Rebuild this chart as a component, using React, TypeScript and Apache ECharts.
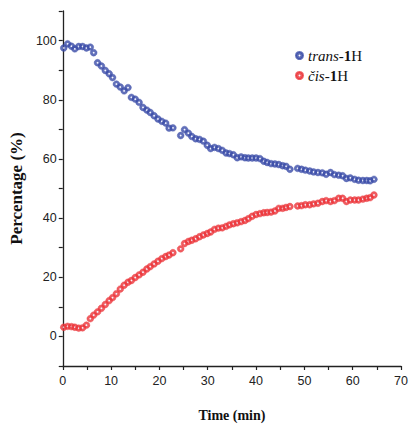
import React, { useEffect, useRef } from "react";
import * as echarts from "echarts";

// Time points (min) shared by both series, three acquisition segments
const times: number[] = [
  0.2, 1.0, 1.8, 2.5, 3.3, 4.1, 4.9, 5.7, 6.4, 7.2, 8.0, 8.8, 9.6, 10.3, 11.1,
  11.9, 12.7, 13.5, 14.2, 15.0, 15.8, 16.6, 17.4, 18.1, 18.9, 19.7, 20.5, 21.3, 22.0, 22.8,
  24.4, 25.2, 26.0, 26.7, 27.5, 28.3, 29.1, 29.9, 30.6, 31.4, 32.2, 33.0, 33.8, 34.5, 35.3,
  36.1, 36.9, 37.7, 38.4, 39.2, 40.0, 40.8, 41.6, 42.3, 43.1, 43.9, 44.7, 45.5, 46.2, 47.0,
  48.6, 49.4, 50.2, 51.1, 51.9, 52.8, 53.7, 54.5, 55.4, 56.2, 57.1, 57.9, 58.7, 59.5, 60.4,
  61.2, 62.1, 62.9, 63.6, 64.4,
];

const transValues: number[] = [
  97.5, 98.9, 98.1, 97.2, 98.0, 98.0, 97.5, 97.8, 95.9, 92.5, 91.4, 89.9, 88.8, 87.5, 85.3,
  84.3, 83.0, 84.1, 80.8, 80.2, 79.1, 77.4, 76.5, 75.7, 74.6, 73.5, 72.7, 72.1, 70.4, 70.5,
  67.9, 69.9, 68.7, 67.6, 66.8, 66.6, 66.0, 64.6, 63.5, 63.9, 63.5, 62.9, 62.0, 61.8, 61.4,
  60.4, 60.7, 60.4, 60.3, 60.3, 60.3, 60.1, 59.2, 58.8, 58.4, 58.3, 58.1, 57.7, 57.5, 56.5,
  56.8, 56.5, 56.2, 55.9, 55.6, 55.4, 55.3, 54.8, 55.4, 54.7, 54.5, 54.3, 53.4, 53.6, 53.1,
  52.8, 52.7, 52.7, 52.6, 53.1,
];

const cisValues: number[] = [
  3.1, 3.4, 3.3, 3.1, 2.8, 2.9, 3.8, 6.0, 7.2, 8.3, 9.5, 10.8, 12.1, 13.1, 14.4,
  16.0, 17.3, 18.3, 18.9, 19.9, 20.8, 21.7, 22.8, 23.6, 24.5, 25.4, 26.3, 27.0, 27.5, 28.3,
  29.6, 31.4, 32.1, 32.5, 33.0, 33.7, 34.3, 34.8, 35.3, 36.2, 36.6, 36.7, 37.2, 37.7, 38.1,
  38.4, 38.8, 39.2, 39.8, 40.6, 41.2, 41.5, 41.8, 41.9, 42.0, 42.4, 43.3, 43.3, 43.6, 43.9,
  44.1, 44.2, 44.5, 44.5, 44.8, 45.0, 45.6, 45.9, 45.6, 45.9, 46.7, 46.7, 45.6, 46.1, 46.1,
  46.1, 46.4, 46.7, 46.9, 47.8,
];

const seriesNames = ["trans-1H", "cis-1H"];
const xTickLabels = [0, 10, 20, 30, 40, 50, 60, 70];
const yTickLabels = [0, 20, 40, 60, 80, 100];

const BLUE = "#3a4ca8";
const RED = "#ec3439";

function ballFill(c: string) {
  return new echarts.graphic.RadialGradient(0.5, 0.5, 0.5, [
    { offset: 0, color: "#ffffff" },
    { offset: 0.12, color: "#eef0ff" },
    { offset: 0.4, color: c },
    { offset: 1, color: c },
  ]);
}

const SERIF = "'Liberation Serif', 'Times New Roman', serif";

export default function App() {
  const ref = useRef<HTMLDivElement>(null);

  useEffect(() => {
    if (!ref.current) return;
    const chart = echarts.init(ref.current, null, { renderer: "svg" });
    const axisFont = {
      fontFamily: "'Liberation Sans', Arial, sans-serif",
      fontSize: 12.5,
      color: "#222",
    };
    const richBase = { fontFamily: SERIF, fontSize: 15, color: "#111", lineHeight: 16 };
    const option: any = {
      animation: false,
      backgroundColor: "#ffffff",
      grid: { left: 59, right: 6, top: 11, bottom: 58 },
      legend: {
        orient: "vertical",
        left: 290,
        top: 43,
        icon: "circle",
        itemWidth: 7,
        itemHeight: 7,
        itemGap: 5,
        data: seriesNames,
        formatter: (name: string) =>
          name === "trans-1H"
            ? "{i|trans}{n|-}{b|1}{n|H}"
            : "{i|čis}{n|-}{b|1}{n|H}",
        textStyle: {
          padding: [0, 0, 0, 0],
          rich: {
            i: { ...richBase, fontStyle: "italic" },
            n: { ...richBase },
            b: { ...richBase, fontWeight: "bold" },
          },
        },
      },
      xAxis: {
        type: "value",
        min: 0,
        max: 70,
        interval: 5,
        name: "Time (min)",
        nameLocation: "middle",
        nameGap: 42,
        nameTextStyle: {
          fontFamily: SERIF,
          fontWeight: "bold",
          fontSize: 14,
          color: "#111",
        },
        axisLine: { show: true, onZero: false, lineStyle: { color: "#222", width: 1.3 } },
        axisTick: { show: true, inside: false, length: 4, lineStyle: { color: "#222", width: 1.2 } },
        splitLine: { show: false },
        axisLabel: {
          ...axisFont,
          margin: 8,
          formatter: (v: number) => (xTickLabels.indexOf(v) >= 0 ? String(v) : ""),
        },
      },
      yAxis: {
        type: "value",
        min: -10,
        max: 110,
        interval: 10,
        name: "Percentage (%)",
        nameLocation: "middle",
        nameGap: 33,
        nameRotate: 90,
        nameTextStyle: {
          fontFamily: SERIF,
          fontWeight: "bold",
          fontSize: 17,
          color: "#111",
        },
        axisLine: { show: true, onZero: false, lineStyle: { color: "#222", width: 1.3 } },
        axisTick: { show: true, inside: false, length: 4, lineStyle: { color: "#222", width: 1.2 } },
        splitLine: { show: false },
        axisLabel: {
          ...axisFont,
          margin: 6,
          formatter: (v: number) => (yTickLabels.indexOf(v) >= 0 ? String(v) : ""),
        },
      },
      series: [
        {
          name: seriesNames[0],
          type: "scatter",
          symbol: "circle",
          symbolSize: 6.8,
          itemStyle: { color: ballFill(BLUE), borderColor: BLUE, borderWidth: 0.5 },
          data: times.map((t, i) => [t, transValues[i]]),
        },
        {
          name: seriesNames[1],
          type: "scatter",
          symbol: "circle",
          symbolSize: 6.8,
          itemStyle: { color: ballFill(RED), borderColor: RED, borderWidth: 0.5 },
          data: times.map((t, i) => [t, cisValues[i]]),
        },
      ],
    };
    chart.setOption(option);
    return () => chart.dispose();
  }, []);

  return <div ref={ref} style={{ width: 411, height: 427, position: "absolute", left: 0, top: 0 }} />;
}
